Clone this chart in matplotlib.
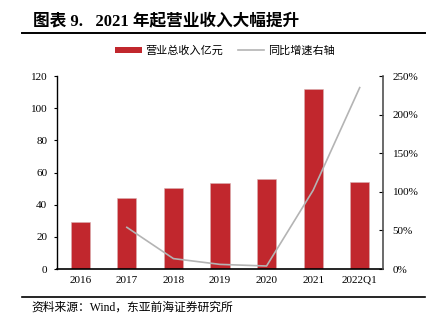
import numpy as np
import matplotlib.pyplot as plt
from matplotlib.lines import Line2D
from matplotlib.patches import Patch

plt.rcParams['font.family'] = ['Liberation Serif', 'Noto Sans CJK SC']

# 数据
periodos = ["2016", "2017", "2018", "2019", "2020", "2021", "2022Q1"]
ingresos = [29.0, 44.0, 50.5, 53.6, 55.7, 112.0, 54.0]       # 营业总收入（亿元）
crecimiento = [np.nan, 54.0, 13.5, 6.0, 3.9, 102.0, 235.0]   # 同比增速（%）

rojo = "#C1272D"
gris = "#B4B4B4"

fig = plt.figure(figsize=(4.36, 3.30), dpi=100)
ax = fig.add_axes([0.1307, 0.1848, 0.7477, 0.5848])

x = np.arange(len(periodos))
ax.bar(x, ingresos, width=0.41, color=rojo, edgecolor="#D8B0B0", linewidth=0.4, zorder=2)
ax.set_xlim(-0.5, len(periodos) - 0.5)
ax.set_ylim(0, 120)
ax.set_yticks(np.arange(0, 121, 20))
ax.set_xticks(x)
ax.set_xticklabels(periodos)
ax.tick_params(axis="x", length=0, labelsize=8, pad=5)
ax.tick_params(axis="y", direction="out", length=2, width=0.8, labelsize=8, pad=5)
for s in ["top", "right"]:
    ax.spines[s].set_visible(False)
ax.spines["left"].set_linewidth(1.0)
ax.spines["bottom"].set_linewidth(1.2)

ax2 = ax.twinx()
ax2.plot(x, crecimiento, color=gris, linewidth=1.2, zorder=3)
ax2.set_ylim(0, 250)
ax2.set_yticks(np.arange(0, 251, 50))
ax2.set_yticklabels([f"{v}%" for v in range(0, 251, 50)])
ax2.tick_params(axis="y", direction="in", length=3, width=0.8, labelsize=8, pad=7)
for s in ["top", "left", "bottom"]:
    ax2.spines[s].set_visible(False)
ax2.spines["right"].set_color("#505050")
ax2.spines["right"].set_linewidth(1.2)

# 图例
handles = [Patch(facecolor=rojo, edgecolor="none"),
           Line2D([0], [0], color=gris, linewidth=1.2)]
fig.legend(handles, ["营业总收入亿元", "同比增速右轴"], loc="center",
           bbox_to_anchor=(0.516, 0.846), ncol=2, frameon=False,
           fontsize=8, handlelength=2.4, handleheight=0.5,
           columnspacing=1.3, handletextpad=0.3)

# 标题与来源
fig.text(0.076, 0.934, "图表 9.   2021 年起营业收入大幅提升", fontsize=12,
         fontweight="bold", va="center", ha="left")
fig.add_artist(Line2D([0.05, 0.975], [0.9, 0.9], color="black", linewidth=1.4))
fig.add_artist(Line2D([0.05, 0.975], [0.1, 0.1], color="black", linewidth=1.2))
fig.text(0.073, 0.067, "资料来源：Wind，东亚前海证券研究所", fontsize=8.5,
         va="center", ha="left")

fig.savefig("out.png", dpi=100)
